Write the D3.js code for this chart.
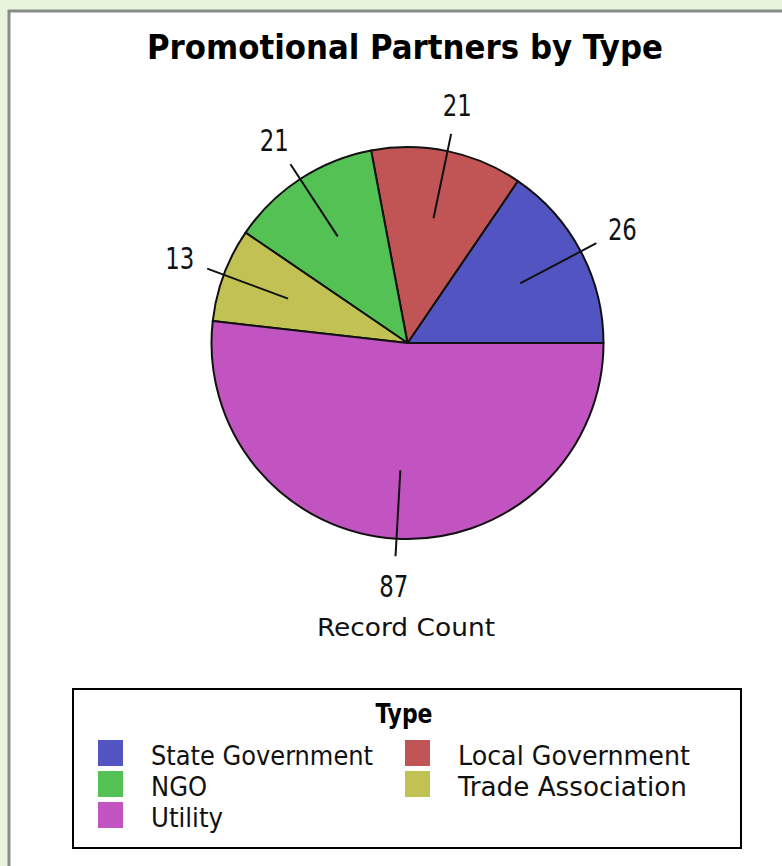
<!DOCTYPE html>
<html lang="en">
  <head>
    <meta charset="utf-8">
    <title>Promotional Partners by Type</title>
    <script src="https://cdn.jsdelivr.net/npm/d3@7"></script>
    <style>
      body { margin: 0; background: #e8f4dc; }
      svg { display: block; }
      text { font-family: 'DejaVu Sans Condensed', 'Liberation Sans Narrow', 'DejaVu Sans', sans-serif; }
    </style>
  </head>
  <body>
    <div id="chart"></div>

    <script type="text/javascript">
      // data
      const categories = ['State Government', 'Local Government', 'NGO', 'Trade Association', 'Utility']
      const counts = [26, 21, 21, 13, 87]
      const colors = ['#5254c1', '#c15454', '#54c154', '#c1c154', '#c154c1']
      const title = 'Promotional Partners by Type'
      const legendTitle = 'Type'
      const measure = 'Record Count'

      const data = categories.map((c, i) => ({name: c, value: counts[i], color: colors[i]}))

      const width = 782, height = 866
      const svg = d3.select('#chart').append('svg')
        .attr('width', width)
        .attr('height', height)

      // white panel with grey frame
      svg.append('rect')
        .attr('x', 9).attr('y', 11)
        .attr('width', width + 20).attr('height', height + 20)
        .attr('fill', '#fff')
        .attr('stroke', '#8a8a8a')
        .attr('stroke-width', 3)

      svg.append('text')
        .attr('x', 405).attr('y', 59)
        .attr('text-anchor', 'middle')
        .attr('font-size', '34px')
        .attr('font-weight', 'bold')
        .attr('textLength', 516)
        .attr('lengthAdjust', 'spacingAndGlyphs')
        .text(title)

      // pie, starting at 3 o'clock and running counter-clockwise
      const cx = 407.5, cy = 343, r = 196
      const pie = d3.pie()
        .sort(null)
        .value(d => d.value)
        .startAngle(Math.PI / 2)
        .endAngle(Math.PI / 2 - 2 * Math.PI)
      const arcs = pie(data)
      const arc = d3.arc().innerRadius(0).outerRadius(r)

      const g = svg.append('g')
        .attr('transform', 'translate(' + cx + ',' + cy + ')')

      g.selectAll('path.slice')
        .data(arcs)
        .enter()
        .append('path')
        .attr('class', 'slice')
        .attr('d', arc)
        .attr('fill', d => d.data.color)
        .attr('stroke', '#111')
        .attr('stroke-width', 2)
        .attr('stroke-linejoin', 'round')

      const at = (d, rho) => {
        let m = (d.startAngle + d.endAngle) / 2
        return [rho * Math.sin(m), -rho * Math.cos(m)]
      }

      g.selectAll('line.leader')
        .data(arcs)
        .enter()
        .append('line')
        .attr('class', 'leader')
        .attr('x1', d => at(d, r * 0.65)[0])
        .attr('y1', d => at(d, r * 0.65)[1])
        .attr('x2', d => at(d, r * 1.09)[0])
        .attr('y2', d => at(d, r * 1.09)[1])
        .attr('stroke', '#111')
        .attr('stroke-width', 2)

      g.selectAll('text.value')
        .data(arcs)
        .enter()
        .append('text')
        .attr('class', 'value')
        .attr('x', d => at(d, r * 1.24)[0])
        .attr('y', d => at(d, r * 1.24)[1] + 11)
        .attr('text-anchor', 'middle')
        .attr('font-size', '30px')
        .attr('textLength', 29)
        .attr('lengthAdjust', 'spacingAndGlyphs')
        .attr('fill', '#111')
        .text(d => d.data.value)

      svg.append('text')
        .attr('x', 406).attr('y', 636)
        .attr('text-anchor', 'middle')
        .attr('font-size', '25px')
        .attr('textLength', 178)
        .attr('lengthAdjust', 'spacingAndGlyphs')
        .attr('fill', '#111')
        .text(measure)

      // legend
      const legend = svg.append('g')
      legend.append('rect')
        .attr('x', 73).attr('y', 689)
        .attr('width', 668).attr('height', 159)
        .attr('fill', '#fff')
        .attr('stroke', '#000')
        .attr('stroke-width', 2)

      legend.append('text')
        .attr('x', 404).attr('y', 723)
        .attr('text-anchor', 'middle')
        .attr('font-size', '27px')
        .attr('font-weight', 'bold')
        .attr('textLength', 57)
        .attr('lengthAdjust', 'spacingAndGlyphs')
        .text(legendTitle)

      const col = d3.scaleOrdinal().domain([0, 1]).range([98, 405])
      const row = d3.scaleBand().domain([0, 1, 2]).range([740, 833]).paddingInner(0)
      const textLen = {'State Government': 222, 'Local Government': 232, 'NGO': 56, 'Trade Association': 229, 'Utility': 72}

      const items = legend.selectAll('g.item')
        .data(data)
        .enter()
        .append('g')
        .attr('class', 'item')
        .attr('transform', (d, i) => 'translate(' + col(i % 2) + ',' + row(Math.floor(i / 2)) + ')')

      items.append('rect')
        .attr('width', 25).attr('height', 26)
        .attr('fill', d => d.color)

      items.append('text')
        .attr('x', 53).attr('y', 25)
        .attr('font-size', '26px')
        .attr('textLength', d => textLen[d.name])
        .attr('lengthAdjust', 'spacingAndGlyphs')
        .attr('fill', '#111')
        .text(d => d.name)
    </script>
  </body>
</html>
